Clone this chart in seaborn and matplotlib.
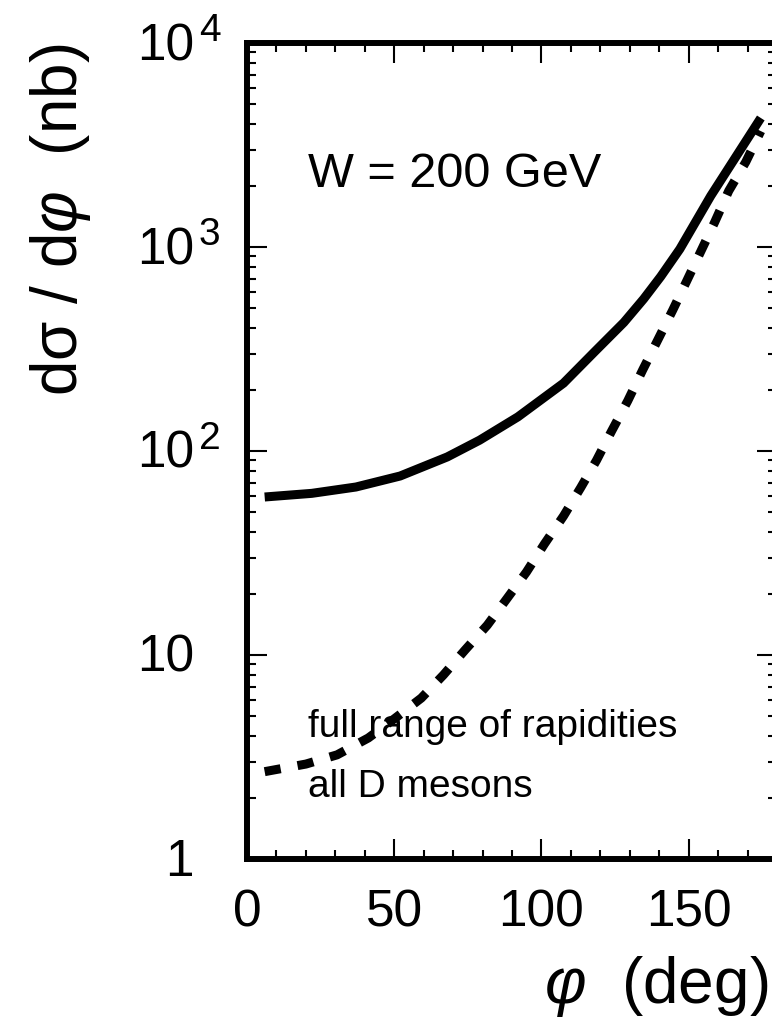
import matplotlib
matplotlib.use("Agg")
import matplotlib.pyplot as plt
import seaborn as sns
import pandas as pd
from matplotlib.ticker import MultipleLocator, NullFormatter, LogLocator, FixedLocator
from matplotlib.transforms import blended_transform_factory, ScaledTranslation

# solid curve
phi_solid = [6, 22, 37, 52, 68, 79, 92, 107.5, 118, 128, 134.7, 140.5, 147, 157.5, 174.5]
sig_solid = [59.5, 62, 66.6, 75.4, 93.5, 113, 147, 215, 306, 427, 556, 716, 977, 1780, 4290]

# dashed curve
phi_dash = [6, 20, 30.6, 41.2, 50.3, 59.2, 66.7, 74.1, 81.6, 88.4, 94.9, 101, 107.5, 113.3,
            118.7, 123.8, 129.3, 134.4, 139.5, 144.6, 149.2, 158.8, 163.6, 169.4, 174.5]
sig_dash = [2.68, 2.92, 3.24, 3.92, 4.9, 6.15, 7.98, 10.6, 14.0, 19.0, 25.5, 35, 48, 66,
            90, 125, 176, 250, 350, 491, 675, 1320, 1883, 2612, 3700]

y_decades = [1, 10, 100, 1000, 10000]
y_base = ["1", "10", "10", "10", "10"]
y_exp = ["", "", "2", "3", "4"]
x_major = [0, 50, 100, 150]

sns.set_style("ticks")
plt.rcParams["font.family"] = ["Liberation Sans", "DejaVu Sans"]
plt.rcParams["mathtext.fontset"] = "custom"
plt.rcParams["mathtext.rm"] = "Liberation Sans"
plt.rcParams["mathtext.it"] = "Liberation Sans:italic"
plt.rcParams["mathtext.bf"] = "Liberation Sans:bold"
for k in ["text.color", "axes.labelcolor", "xtick.color", "ytick.color", "axes.edgecolor"]:
    plt.rcParams[k] = "black"

fig = plt.figure(figsize=(7.72, 10.34), dpi=100)
ax = fig.add_axes([247 / 772, (1034 - 859) / 1034, 530 / 772, 816 / 1034])

df_s = pd.DataFrame({"phi": phi_solid, "sig": sig_solid})
df_d = pd.DataFrame({"phi": phi_dash, "sig": sig_dash})
sns.lineplot(data=df_s, x="phi", y="sig", ax=ax, color="black", lw=6.5,
             solid_capstyle="butt")
sns.lineplot(data=df_d, x="phi", y="sig", ax=ax, color="black", lw=6.5,
             linestyle=(0, (1.8, 1.9)), dash_capstyle="butt")

ax.set_yscale("log")
ax.set_xlim(0, 180)
ax.set_ylim(1, 1e4)

ax.xaxis.set_major_locator(FixedLocator(x_major))
ax.xaxis.set_minor_locator(MultipleLocator(10))
ax.yaxis.set_major_locator(FixedLocator(y_decades))
ax.yaxis.set_minor_locator(LogLocator(base=10, subs=range(2, 10)))
ax.yaxis.set_major_formatter(NullFormatter())
ax.yaxis.set_minor_formatter(NullFormatter())
ax.set_xticklabels([str(v) for v in x_major])

for s in ax.spines.values():
    s.set_linewidth(4.3)
    s.set_color("black")

ax.tick_params(which="both", direction="in", top=True, right=True, width=1.5, color="black")
ax.tick_params(which="major", length=14.5)
ax.tick_params(which="minor", length=6.5)
ax.tick_params(axis="x", which="major", labelsize=37, pad=21)

# y tick labels with superscripts
ytr = blended_transform_factory(ax.transAxes, ax.transData)
for v, b, e in zip(y_decades, y_base, y_exp):
    ax.text(0, v, b, fontsize=37, ha="right", va="baseline",
            transform=ytr + ScaledTranslation(-0.53, -0.17, fig.dpi_scale_trans))
    if e:
        ax.text(0, v, e, fontsize=28, ha="left", va="baseline",
                transform=ytr + ScaledTranslation(-0.48, 0.02, fig.dpi_scale_trans))

ax.set_xlabel(r"$\varphi$  (deg)", fontsize=46, ha="right")
ax.xaxis.set_label_coords(0.983, -0.116)
ax.set_ylabel(r"dσ / d$\varphi$  (nb)", fontsize=46)
ax.yaxis.set_label_coords(-0.29, 0.783)

ax.text(0.115, 0.8235, "W = 200 GeV", fontsize=35, transform=ax.transAxes, va="baseline")
ax.text(0.115, 0.1495, "full range of rapidities", fontsize=28, transform=ax.transAxes,
        va="baseline")
ax.text(0.115, 0.076, "all D mesons", fontsize=28, transform=ax.transAxes, va="baseline")

fig.savefig("out.png", dpi=100)
